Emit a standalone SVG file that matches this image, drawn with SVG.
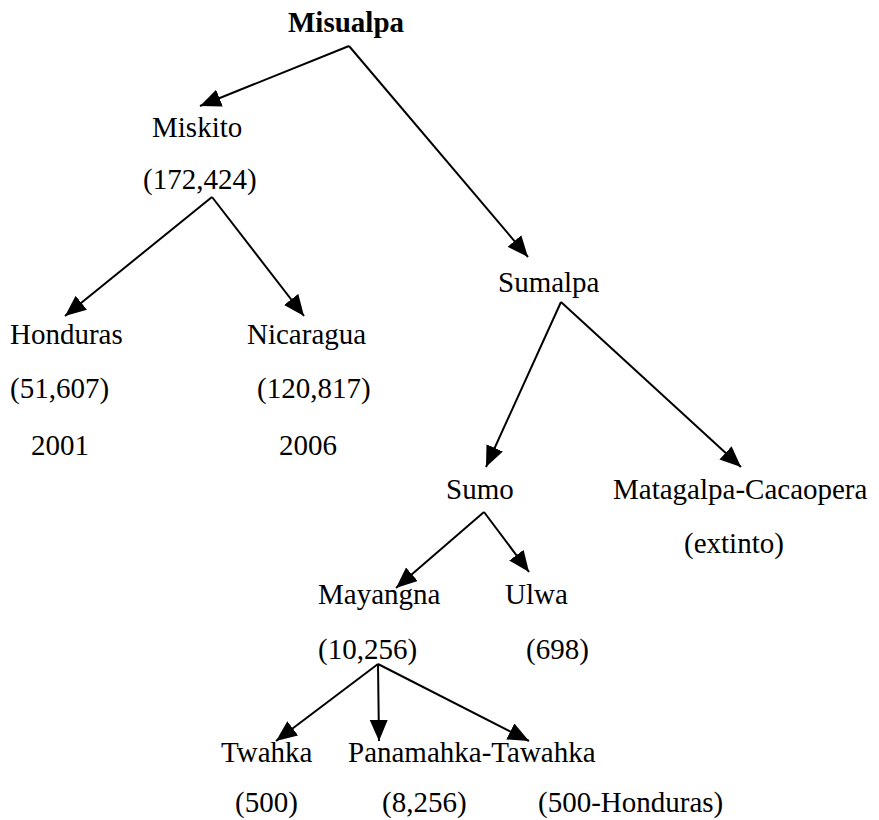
<svg xmlns="http://www.w3.org/2000/svg" width="879" height="820" viewBox="0 0 879 820">
<style>
text{font-family:"Liberation Serif","Times New Roman",serif;font-size:29px;fill:#000}
.b{font-weight:bold}
.c line{stroke:#000;stroke-width:2;marker-end:url(#ah)}
</style>
<defs>
<marker id="ah" markerUnits="userSpaceOnUse" markerWidth="23" markerHeight="19" refX="21" refY="9" orient="auto">
<path d="M0,0 L21,9 L0,18 z" fill="#000"/>
</marker>
</defs>
<rect width="879" height="820" fill="#fff"/>
<g class="c" id="connectors">
<line x1="349" y1="46" x2="200" y2="106"/>
<line x1="349" y1="46" x2="528" y2="257"/>
<line x1="212" y1="197" x2="65" y2="316"/>
<line x1="212" y1="197" x2="304" y2="316"/>
<line x1="561" y1="302" x2="486" y2="467"/>
<line x1="561" y1="302" x2="741" y2="467"/>
<line x1="484" y1="512" x2="396" y2="588"/>
<line x1="484" y1="512" x2="529" y2="572"/>
<line x1="378" y1="664" x2="276" y2="741"/>
<line x1="378" y1="664" x2="379" y2="741"/>
<line x1="378" y1="664" x2="529" y2="741"/>
</g>
<g id="misualpa"><text class="b" x="288" y="32">Misualpa</text></g>
<g id="miskito"><text x="152" y="137">Miskito</text><text x="143" y="189">(172,424)</text></g>
<g id="honduras"><text x="10" y="344">Honduras</text><text x="10" y="398">(51,607)</text><text x="31" y="455">2001</text></g>
<g id="nicaragua"><text x="247" y="344">Nicaragua</text><text x="257" y="398">(120,817)</text><text x="279" y="455">2006</text></g>
<g id="sumalpa"><text x="498" y="292">Sumalpa</text></g>
<g id="sumo"><text x="446" y="499">Sumo</text></g>
<g id="matagalpa"><text x="613" y="499">Matagalpa-Cacaopera</text><text x="684" y="553">(extinto)</text></g>
<g id="mayangna"><text x="318" y="604">Mayangna</text><text x="318" y="659">(10,256)</text></g>
<g id="ulwa"><text x="505" y="604">Ulwa</text><text x="526" y="659">(698)</text></g>
<g id="twahka"><text x="221" y="762">Twahka</text><text x="235" y="812">(500)</text></g>
<g id="panamahka"><text x="348" y="762">Panamahka-Tawahka</text><text x="382" y="812">(8,256)</text></g>
<g id="tawahka"><text x="538" y="812">(500-Honduras)</text></g>
</svg>
